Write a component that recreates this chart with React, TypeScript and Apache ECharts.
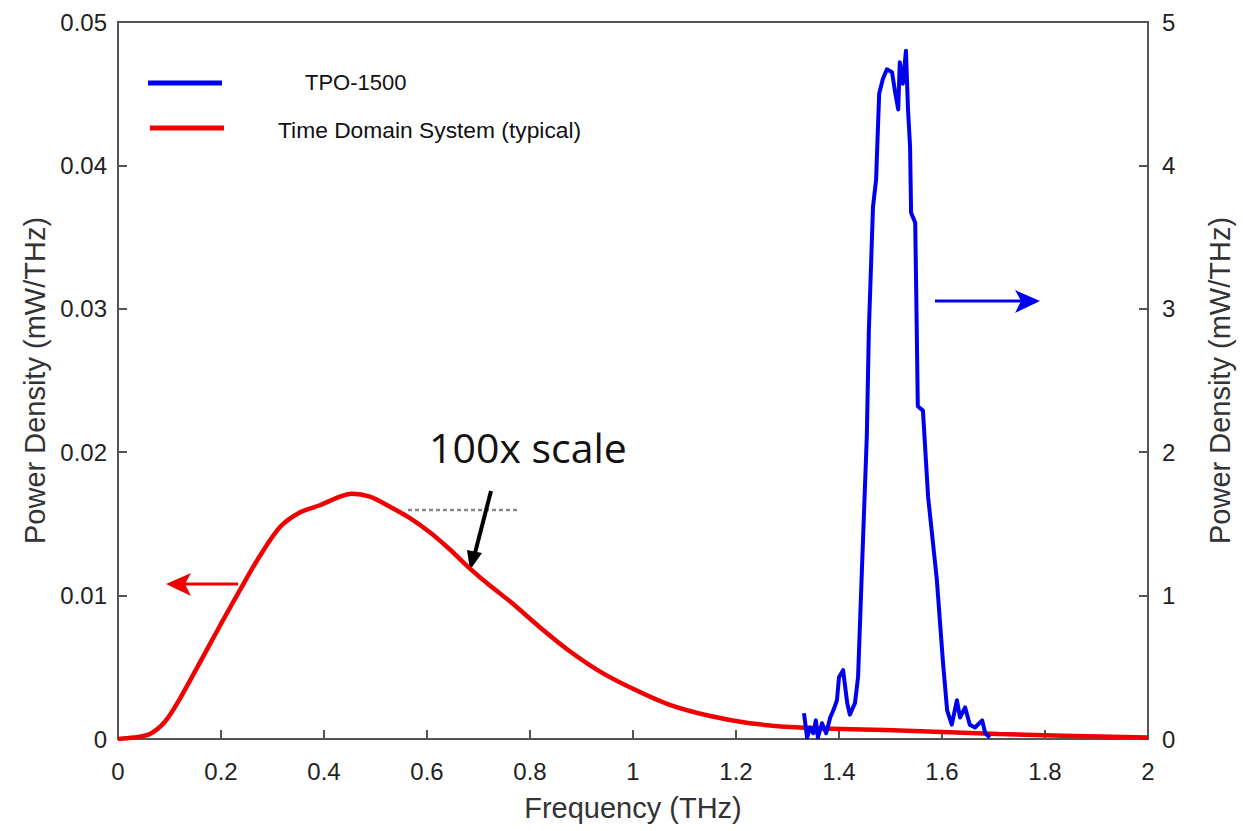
import React, { useEffect, useRef } from "react";
import * as echarts from "echarts";

// Time Domain System (typical) — left axis, mW/THz
const redX = [0, 0.03, 0.062, 0.091, 0.12, 0.16, 0.198, 0.237, 0.276, 0.315, 0.353, 0.392, 0.431, 0.454, 0.489, 0.528, 0.567, 0.606, 0.645, 0.683, 0.722, 0.761, 0.819, 0.878, 0.936, 1.0, 1.07, 1.15, 1.227, 1.324, 1.518, 1.71, 2.0];
const redY = [0, 0.0001, 0.00035, 0.0012, 0.0028, 0.0054, 0.0079, 0.0104, 0.0128, 0.0148, 0.0158, 0.0163, 0.0169, 0.0171, 0.0169, 0.0162, 0.0154, 0.0144, 0.0132, 0.0119, 0.0107, 0.0096, 0.0078, 0.0061, 0.0047, 0.0035, 0.0024, 0.0016, 0.0011, 0.0008, 0.0006, 0.00035, 0.0001];

// TPO-1500 — right axis, mW/THz
const blueX = [1.332, 1.338, 1.344, 1.35, 1.355, 1.359, 1.367, 1.375, 1.383, 1.389, 1.396, 1.4, 1.408, 1.416, 1.421, 1.431, 1.437, 1.445, 1.454, 1.458, 1.466, 1.472, 1.478, 1.485, 1.493, 1.503, 1.509, 1.515, 1.518, 1.524, 1.53, 1.534, 1.538, 1.54, 1.548, 1.551, 1.553, 1.563, 1.573, 1.59, 1.602, 1.61, 1.619, 1.629, 1.635, 1.645, 1.654, 1.664, 1.678, 1.684, 1.693];
const blueY = [0.18, 0.01, 0.08, 0.04, 0.13, 0.01, 0.11, 0.04, 0.15, 0.2, 0.27, 0.43, 0.48, 0.25, 0.17, 0.25, 0.43, 1.23, 2.11, 2.85, 3.71, 3.9, 4.5, 4.6, 4.67, 4.65, 4.51, 4.39, 4.72, 4.57, 4.8, 4.39, 4.13, 3.67, 3.6, 2.85, 2.32, 2.29, 1.69, 1.11, 0.53, 0.2, 0.1, 0.27, 0.15, 0.22, 0.1, 0.08, 0.13, 0.04, 0.01];

const seriesNames = ["TPO-1500", "Time Domain System (typical)"];
const xName = "Frequency (THz)";
const yName = "Power Density (mW/THz)";
const annotation = "100x scale";

const RED = "#f00000";
const BLUE = "#0000f0";
const AXIS = "#555555";
const FONT = "'Liberation Sans', Arial, sans-serif";

export default function App() {
  const ref = useRef<HTMLDivElement>(null);
  useEffect(() => {
    if (!ref.current) return;
    const chart = echarts.init(ref.current, undefined, { renderer: "svg" });
    const redData = redX.map((x, i) => [x, redY[i]]);
    const blueData = blueX.map((x, i) => [x, blueY[i]]);
    const axisCommon = {
      axisLine: { show: true, lineStyle: { color: AXIS, width: 2 } },
      axisTick: { show: true, inside: true, length: 9, lineStyle: { color: AXIS, width: 2 } },
      splitLine: { show: false },
      nameTextStyle: { color: "#333", fontSize: 29, fontFamily: FONT },
    };
    chart.setOption({
      animation: false,
      backgroundColor: "#ffffff",
      grid: {
        left: 118,
        right: 95,
        top: 22,
        bottom: 92,
        show: true,
        borderColor: AXIS,
        borderWidth: 2,
        containLabel: false,
        outerBoundsMode: "none",
      },
      xAxis: {
        type: "value",
        min: 0,
        max: 2,
        interval: 0.2,
        name: xName,
        nameLocation: "middle",
        nameGap: 54,
        ...axisCommon,
        axisLabel: { color: "#222", fontSize: 24, fontFamily: FONT, margin: 20 },
      },
      yAxis: [
        {
          type: "value",
          position: "left",
          min: 0,
          max: 0.05,
          interval: 0.01,
          name: yName,
          nameLocation: "middle",
          nameRotate: 90,
          nameGap: 63,
          ...axisCommon,
          axisLabel: { color: "#222", fontSize: 24, fontFamily: FONT, margin: 11 },
        },
        {
          type: "value",
          position: "right",
          min: 0,
          max: 5,
          interval: 1,
          name: yName,
          nameLocation: "middle",
          nameRotate: 90,
          nameGap: 57,
          ...axisCommon,
          axisLabel: { color: "#222", fontSize: 24, fontFamily: FONT, margin: 14 },
        },
      ],
      series: [
        {
          name: seriesNames[1],
          type: "line",
          yAxisIndex: 0,
          data: redData,
          smooth: 0.3,
          showSymbol: false,
          lineStyle: { color: RED, width: 4.5 },
          z: 2,
        },
        {
          name: seriesNames[0],
          type: "line",
          yAxisIndex: 1,
          data: blueData,
          showSymbol: false,
          lineStyle: { color: BLUE, width: 4, join: "round" },
          z: 3,
        },
      ],
      graphic: [
        // legend
        { type: "line", shape: { x1: 148, y1: 83, x2: 222, y2: 83 }, style: { stroke: BLUE, lineWidth: 5 } },
        { type: "text", x: 305, y: 82, style: { text: seriesNames[0], fill: "#111", fontSize: 22, fontFamily: FONT, verticalAlign: "middle", align: "left" } },
        { type: "line", shape: { x1: 150, y1: 128, x2: 224, y2: 128 }, style: { stroke: RED, lineWidth: 5 } },
        { type: "text", x: 278, y: 130, style: { text: seriesNames[1], fill: "#111", fontSize: 22.8, fontFamily: FONT, verticalAlign: "middle", align: "left" } },
        // annotation
        { type: "text", x: 528, y: 447, style: { text: annotation, fill: "#111", fontSize: 41, fontFamily: "'Open Sans', sans-serif", align: "center", verticalAlign: "middle" } },
        { type: "line", shape: { x1: 408, y1: 510, x2: 518, y2: 510 }, style: { stroke: "#888", lineWidth: 2.5, lineDash: [4, 3] } },
        { type: "line", shape: { x1: 491, y1: 491, x2: 475, y2: 553 }, style: { stroke: "#000", lineWidth: 4 } },
        { type: "polygon", shape: { points: [[470, 570], [482, 553], [467, 550]] }, style: { fill: "#000" } },
        // red arrow (left axis)
        { type: "line", shape: { x1: 184, y1: 584, x2: 238, y2: 584 }, style: { stroke: RED, lineWidth: 3 } },
        { type: "polygon", shape: { points: [[166, 584], [191, 573], [185, 584], [191, 596]] }, style: { fill: RED } },
        // blue arrow (right axis)
        { type: "line", shape: { x1: 935, y1: 301, x2: 1021, y2: 301 }, style: { stroke: BLUE, lineWidth: 3 } },
        { type: "polygon", shape: { points: [[1040, 301], [1015, 290], [1021, 301], [1015, 313]] }, style: { fill: BLUE } },
      ],
    });
    return () => chart.dispose();
  }, []);
  return (
    <div
      ref={ref}
      style={{ position: "absolute", left: 0, top: 0, width: 1243, height: 831, background: "#fff" }}
    />
  );
}
